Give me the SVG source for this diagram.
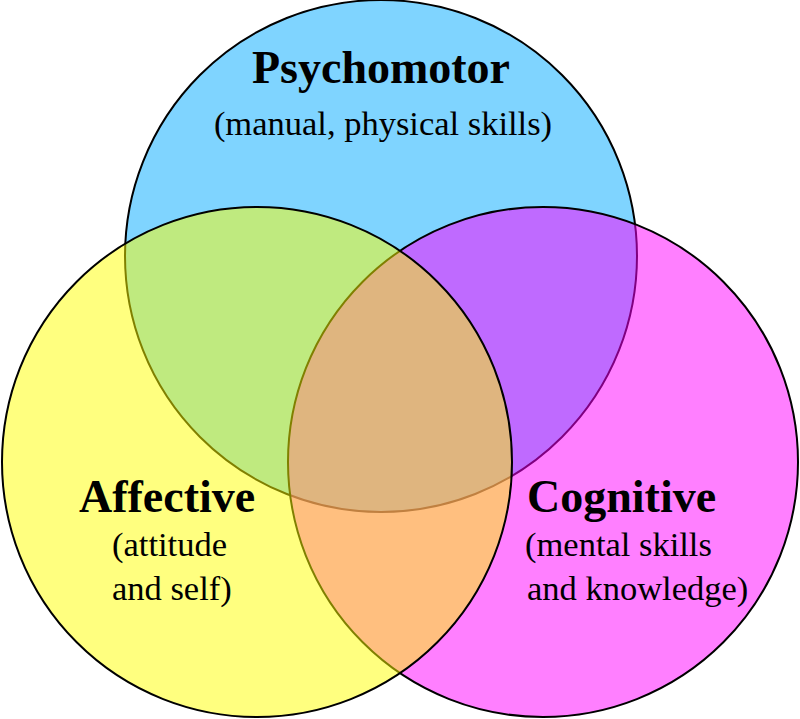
<svg xmlns="http://www.w3.org/2000/svg" width="800" height="719" viewBox="0 0 800 719">
<style>
circle{stroke:#000;stroke-width:2;fill-opacity:0.5}
text{font-family:"Liberation Serif",serif;fill:#000}
.t{font-weight:bold;font-size:46px}
.s{font-size:34.5px}
</style>
<rect width="800" height="719" fill="#fff"/>
<g id="psychomotor"><circle cx="381" cy="256" r="256" fill="#00aaff"/></g>
<g id="cognitive"><circle cx="543" cy="462" r="255" fill="#ff00ff"/></g>
<g id="affective"><circle cx="257" cy="462" r="255" fill="#ffff00"/></g>
<g id="connectors"></g>
<g id="labels">
<text class="t" x="381" y="83" text-anchor="middle">Psychomotor</text>
<text class="s" x="383" y="135" text-anchor="middle">(manual, physical skills)</text>
<text class="t" x="79" y="512">Affective</text>
<text class="s" x="112" y="556">(attitude</text>
<text class="s" x="112" y="600">and self)</text>
<text class="t" x="527" y="512">Cognitive</text>
<text class="s" x="525" y="556">(mental skills</text>
<text class="s" x="527" y="600">and knowledge)</text>
</g>
</svg>
